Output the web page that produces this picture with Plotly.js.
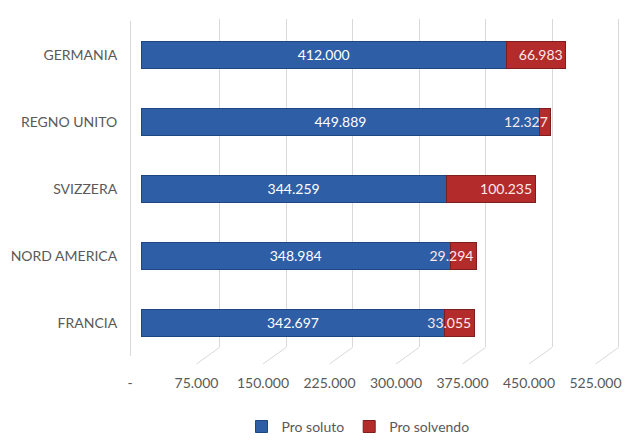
<!DOCTYPE html>
<html>
<head>
<meta charset="utf-8">
<script src="https://cdn.plot.ly/plotly-3.0.1.min.js"></script>
<style>html,body{margin:0;padding:0;background:#fff;}#chart{width:625px;height:443px;}</style>
</head>
<body>
<div id="chart"></div>
<script>
// Data (bottom to top)
const categories = ['FRANCIA', 'NORD AMERICA', 'SVIZZERA', 'REGNO UNITO', 'GERMANIA'];
const proSoluto = [342697, 348984, 344259, 449889, 412000];
const proSolvendo = [33055, 29294, 100235, 12327, 66983];
const seriesNames = ['Pro soluto', 'Pro solvendo'];
const tickValues = [0, 75000, 150000, 225000, 300000, 375000, 450000, 525000];
const tickLabels = ['-', '75.000', '150.000', '225.000', '300.000', '375.000', '450.000', '525.000'];

const W = 625, H = 443;
const xMax = 530000;
const pxPerUnit = 66.5 / 75000;
const plotW = xMax * pxPerUnit;
const backLeft = 153, frontLeft = 130, barLeft = 141;
const backBottom = 358, frontBottom = 375;
const fontFam = 'Lato, "Open Sans", sans-serif';
const grey = '#595959';

const traces = [
  {type: 'scatter', x: [null], y: [null], xaxis: 'x', yaxis: 'y', showlegend: false, hoverinfo: 'skip'},
  {type: 'scatter', x: [null], y: [null], xaxis: 'x2', yaxis: 'y2', showlegend: false, hoverinfo: 'skip'},
  {
    type: 'bar', orientation: 'h', name: seriesNames[0],
    y: categories, x: proSoluto, xaxis: 'x3', yaxis: 'y2',
    marker: {color: '#2e5ea6', line: {color: '#1f467f', width: 1}},
    texttemplate: '%{x:,d}', textposition: 'inside', insidetextanchor: 'middle', textangle: 0,
    textfont: {color: '#ffffff', size: 14, family: fontFam}, constraintext: 'none'
  },
  {
    type: 'bar', orientation: 'h', name: seriesNames[1],
    y: categories, x: proSolvendo, xaxis: 'x3', yaxis: 'y2',
    marker: {color: '#b42b2b', line: {color: '#7f1d1d', width: 1}},
    texttemplate: '%{x:,d}', textposition: 'inside', insidetextanchor: 'end', textangle: 0,
    textfont: {color: '#fbe9e9', size: 14, family: fontFam}, constraintext: 'none'
  }
];

// floor diagonals from front tick to back gridline
const offsetUnits = (backLeft - frontLeft) / pxPerUnit;
const shapes = tickValues.map(v => ({
  type: 'line', layer: 'below', xref: 'x', yref: 'paper',
  x0: v - offsetUnits, y0: 1 - frontBottom / H,
  x1: v, y1: 1 - backBottom / H,
  line: {color: '#d9d9d9', width: 1}
}));

const layout = {
  width: W, height: H,
  margin: {l: 0, r: 0, t: 0, b: 0},
  paper_bgcolor: '#ffffff', plot_bgcolor: 'rgba(0,0,0,0)',
  separators: ',.',
  font: {family: fontFam, size: 14, color: grey},
  barmode: 'stack', bargap: 0.59,
  uniformtext: {mode: 'show', minsize: 14},
  showlegend: true,
  legend: {orientation: 'h', x: 358 / W, xanchor: 'center', y: -0.03, yanchor: 'bottom',
           font: {size: 14, color: grey}, itemwidth: 30, traceorder: 'normal', tracegroupgap: 0},
  // back wall gridlines
  xaxis: {domain: [backLeft / W, (backLeft + plotW) / W], range: [0, xMax], anchor: 'y',
          tickmode: 'array', tickvals: tickValues, showticklabels: false, ticks: '',
          showgrid: true, gridcolor: '#d9d9d9', gridwidth: 1, zeroline: false, showline: false, fixedrange: true},
  yaxis: {domain: [1 - backBottom / H, 1 - 20 / H], range: [0, 1], visible: false, fixedrange: true},
  // front tick labels
  xaxis2: {domain: [frontLeft / W, (frontLeft + plotW) / W], range: [0, xMax], anchor: 'free', position: 1 - frontBottom / H,
           tickmode: 'array', tickvals: tickValues, ticktext: tickLabels,
           ticks: 'outside', ticklen: 6, tickcolor: 'rgba(0,0,0,0)',
           showgrid: false, zeroline: false, showline: false, tickfont: {size: 14, color: grey}, fixedrange: true},
  // bars
  xaxis3: {domain: [barLeft / W, (barLeft + plotW) / W], range: [0, xMax], anchor: 'y2',
           visible: false, showgrid: false, zeroline: false, fixedrange: true},
  yaxis2: {domain: [1 - 367 / H, 1 - 22 / H], type: 'category', range: [-0.5, 4.5],
           anchor: 'free', position: frontLeft / W,
           showline: true, linecolor: '#d9d9d9', linewidth: 1,
           ticks: 'outside', ticklen: 10, tickcolor: 'rgba(0,0,0,0)',
           showgrid: false, zeroline: false, tickfont: {size: 14, color: grey}, fixedrange: true},
  shapes: shapes
};

Plotly.newPlot('chart', traces, layout, {displayModeBar: false, staticPlot: true});
</script>
</body>
</html>
